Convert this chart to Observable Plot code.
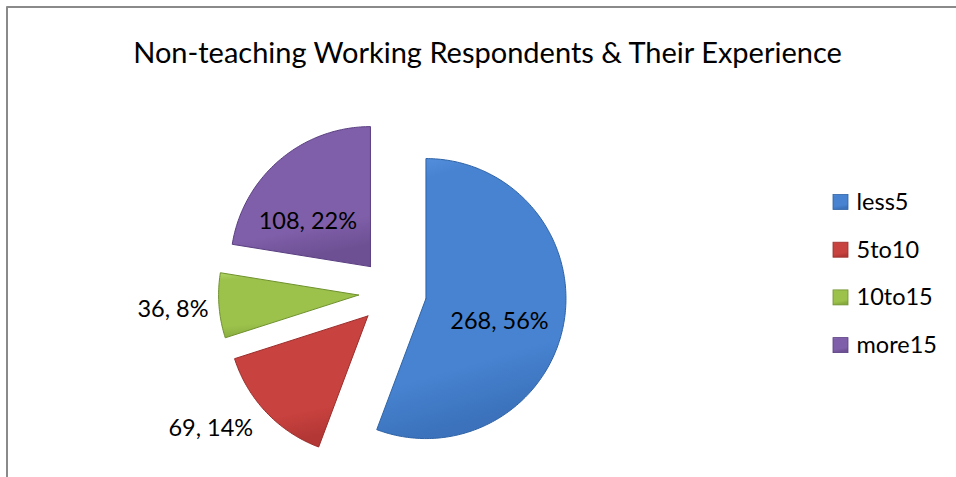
<!DOCTYPE html>
<html>
<head>
<meta charset="utf-8">
<script src="https://cdn.jsdelivr.net/npm/d3@7"></script>
<script src="https://cdn.jsdelivr.net/npm/@observablehq/plot@0.6"></script>
<style>
  html, body { margin: 0; padding: 0; background: #fff; }
  #chart svg { display: block; }
</style>
</head>
<body>
<div id="chart"></div>
<script>
// ---- data ----
const title = "Non-teaching Working Respondents & Their Experience";
const categories = ["less5", "5to10", "10to15", "more15"];
const counts = [268, 69, 36, 108];
const percentLabels = ["56%", "14%", "8%", "22%"];

// ---- styling / layout ----
const faceColors = ["#4783d1", "#c8423f", "#9cc24c", "#7f5fa9"];
const lightColors = ["#5a96e2", "#da5955", "#b0d566", "#9476c0"];
const lowColors = ["#3b72bb", "#b33735", "#88ab3d", "#6d5094"];
const darkColors = ["#2f63a6", "#9b2d2b", "#6f912d", "#5a3f82"];
const W = 956, H = 477;
const cx = 392, cy = 292, R = 140, explode = 34;
// label placement: radius factor (relative to R) and angle shift (deg) from slice mid
const labelRadius = [0.55, 1.38, 1.33, 0.55];
const labelShift = [7, 8, 0, -14];
const legendX = 833, legendTop = 202, legendStep = 47.7, sw = 15;
const font = "Lato, 'Open Sans', sans-serif";

const total = d3.sum(counts);
let acc = 0;
const slices = categories.map((c, i) => {
  const a0 = acc / total * 2 * Math.PI;
  acc += counts[i];
  const a1 = acc / total * 2 * Math.PI;
  const mid = (a0 + a1) / 2;
  return {c, i, a0, a1, mid, ox: cx + explode * Math.sin(mid), oy: cy - explode * Math.cos(mid)};
});

function slicePoints(s) {
  const n = Math.max(2, Math.ceil((s.a1 - s.a0) / (Math.PI / 180)));
  const arr = [{c: s.c, x: s.ox, y: s.oy}];
  for (let k = 0; k <= n; k++) {
    const a = s.a0 + (s.a1 - s.a0) * k / n;
    arr.push({c: s.c, x: s.ox + R * Math.sin(a), y: s.oy - R * Math.cos(a)});
  }
  arr.push({c: s.c, x: s.ox, y: s.oy});
  return arr;
}

const labels = slices.map(s => {
  const a = s.mid + labelShift[s.i] * Math.PI / 180;
  const rr = labelRadius[s.i] * R;
  return {text: `${counts[s.i]}, ${percentLabels[s.i]}`, x: s.ox + rr * Math.sin(a), y: s.oy - rr * Math.cos(a)};
});

const legend = categories.map((c, i) => ({c, i, y: legendTop + i * legendStep}));

const marks = [
  // chart border (top + left visible)
  Plot.line([{x: 6.5, y: H + 5}, {x: 6.5, y: 6.5}, {x: W + 5, y: 6.5}], {x: "x", y: "y", stroke: "#8a8a8a", strokeWidth: 2}),
  Plot.text([title], {frameAnchor: "top", dx: 9, dy: 53, text: d => d, fontSize: 29, fontFamily: font, fill: "#000", lineAnchor: "middle"}),
  ...slices.map(s => Plot.line(slicePoints(s), {
    x: "x", y: "y", fill: `url(#grad${s.i})`, stroke: darkColors[s.i], strokeWidth: 1, strokeLinejoin: "round", curve: "linear"
  })),
  Plot.text(labels, {x: "x", y: "y", text: "text", fontSize: 23.5, fontFamily: font, fill: "#000", textAnchor: "middle", lineAnchor: "middle"}),
  Plot.rect(legend, {x1: legendX, x2: legendX + sw, y1: d => d.y - sw / 2, y2: d => d.y + sw / 2, fill: d => `url(#grad${d.i})`, stroke: d => darkColors[d.i], strokeWidth: 0.8}),
  Plot.text(legend, {x: legendX + sw + 8, y: "y", text: "c", fontSize: 23.5, fontFamily: font, fill: "#000", textAnchor: "start", lineAnchor: "middle"})
];

const chart = Plot.plot({
  width: W, height: H, margin: 0,
  x: {type: "linear", domain: [0, W], range: [0, W], axis: null},
  y: {type: "linear", domain: [0, H], range: [0, H], axis: null},
  color: {type: "identity"},
  style: {background: "#fff", overflow: "hidden"},
  marks
});

// gradient definitions for the bevelled look
const svg = d3.select(chart);
const defs = svg.insert("defs", ":first-child");
faceColors.forEach((c, i) => {
  const g = defs.append("linearGradient").attr("id", `grad${i}`).attr("x1", 0).attr("y1", 0).attr("x2", 0.2).attr("y2", 1);
  g.append("stop").attr("offset", "0%").attr("stop-color", lightColors[i]);
  g.append("stop").attr("offset", "12%").attr("stop-color", c);
  g.append("stop").attr("offset", "80%").attr("stop-color", c);
  g.append("stop").attr("offset", "100%").attr("stop-color", lowColors[i]);
});
const f = defs.append("filter").attr("id", "shadow").attr("x", "-20%").attr("y", "-20%").attr("width", "140%").attr("height", "140%");
f.append("feDropShadow").attr("dx", 1.5).attr("dy", 2).attr("stdDeviation", 1.5).attr("flood-color", "#000").attr("flood-opacity", 0.3);
svg.selectAll("g[aria-label=line] path").filter((d, i, nodes) => nodes[i].getAttribute("fill") && nodes[i].getAttribute("fill").startsWith("url")).attr("filter", "url(#shadow)");

document.getElementById("chart").appendChild(chart);
</script>
</body>
</html>
